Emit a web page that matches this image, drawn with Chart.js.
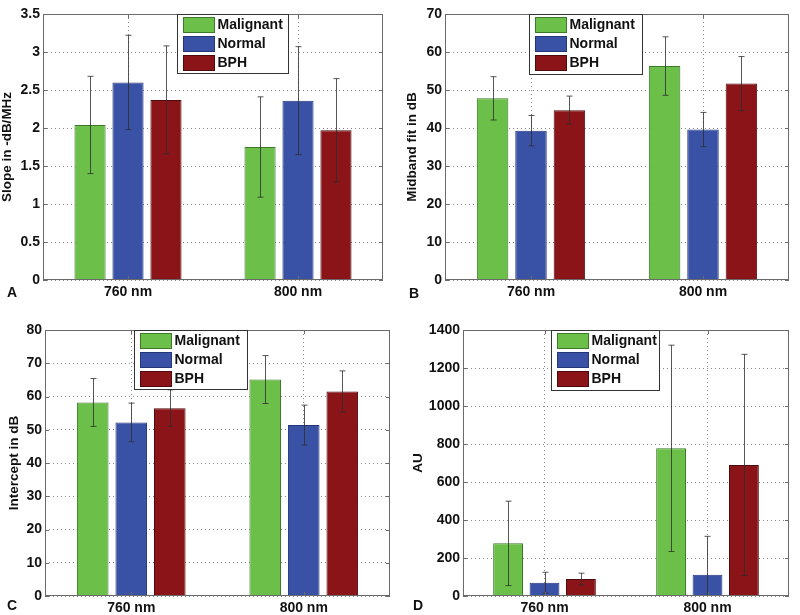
<!DOCTYPE html>
<html>
<head>
<meta charset="utf-8">
<script src="https://cdn.jsdelivr.net/npm/chart.js@4.4.1/dist/chart.umd.min.js"></script>
<style>
  html, body { margin: 0; padding: 0; background: #fff; }
  #wrap { position: relative; width: 800px; height: 615px; overflow: hidden; }
  .panel { position: absolute; }
</style>
</head>
<body>
<div id="wrap">
  <div class="panel" style="left:0;top:0;width:400px;height:300px"><canvas id="cA" width="400" height="300"></canvas></div>
  <div class="panel" style="left:400px;top:0;width:400px;height:300px"><canvas id="cB" width="400" height="300"></canvas></div>
  <div class="panel" style="left:0;top:300px;width:400px;height:315px"><canvas id="cC" width="400" height="315"></canvas></div>
  <div class="panel" style="left:400px;top:300px;width:400px;height:315px"><canvas id="cD" width="400" height="315"></canvas></div>
</div>
<script>
// ---------- data ----------
const categories = ['760 nm', '800 nm'];
const seriesNames = ['Malignant', 'Normal', 'BPH'];

// Panel A: slope (-dB/MHz)
const slopeMalignant = [2.04, 1.75];
const slopeMalignantErr = [0.64, 0.66];
const slopeNormal = [2.60, 2.36];
const slopeNormalErr = [0.62, 0.71];
const slopeBPH = [2.37, 1.97];
const slopeBPHErr = [0.71, 0.68];

// Panel B: midband fit (dB)
const midbandMalignant = [47.8, 56.3];
const midbandMalignantErr = [5.7, 7.7];
const midbandNormal = [39.3, 39.6];
const midbandNormalErr = [4.0, 4.5];
const midbandBPH = [44.7, 51.7];
const midbandBPHErr = [3.7, 7.1];

// Panel C: intercept (dB)
const interceptMalignant = [58.2, 65.1];
const interceptMalignantErr = [7.2, 7.2];
const interceptNormal = [52.2, 51.4];
const interceptNormalErr = [5.8, 6.0];
const interceptBPH = [56.5, 61.5];
const interceptBPHErr = [5.5, 6.2];

// Panel D: AU
const auMalignant = [277, 777];
const auMalignantErr = [222, 543];
const auNormal = [70, 112];
const auNormalErr = [55, 202];
const auBPH = [89, 690];
const auBPHErr = [31, 582];

// y tick settings
const slopeTicks = { max: 3.5, step: 0.5 };
const midbandTicks = { max: 70, step: 10 };
const interceptTicks = { max: 80, step: 10 };
const auTicks = { max: 1400, step: 200 };

// ---------- styles ----------
const FONT = "'Liberation Sans', Arial, sans-serif";
Chart.defaults.font.family = FONT;
Chart.defaults.color = '#111';
const fills = ['#6cc04a', '#3a52a6', '#8b1418'];
const edges = ['#3c7a2a', '#24357a', '#4e0a0c'];

const boxPlugin = {
  id: 'boxPlugin',
  afterDatasetsDraw(chart) {
    const ctx = chart.ctx, a = chart.chartArea;
    ctx.save();
    ctx.beginPath();
    ctx.rect(a.left, a.top, a.right - a.left, a.bottom - a.top);
    ctx.clip();
    chart.data.datasets.forEach((ds, i) => {
      const meta = chart.getDatasetMeta(i);
      ds.errors.forEach((e, j) => {
        const v = ds.data[j];
        const x = Math.round(meta.data[j].x) + 0.5;
        const yT = chart.scales.y.getPixelForValue(v + e);
        const yB = chart.scales.y.getPixelForValue(v - e);
        ctx.strokeStyle = 'rgba(45,45,45,0.8)';
        ctx.lineWidth = 1;
        ctx.beginPath();
        ctx.moveTo(x, yT); ctx.lineTo(x, yB);
        ctx.moveTo(x - 3, yT); ctx.lineTo(x + 3, yT);
        ctx.moveTo(x - 3, yB); ctx.lineTo(x + 3, yB);
        ctx.stroke();
      });
    });
    ctx.restore();
  },
  afterDraw(chart) {
    const o = chart.options.plugins.boxPlugin;
    const ctx = chart.ctx, a = chart.chartArea;
    ctx.save();
    ctx.strokeStyle = '#6a6a6a';
    ctx.lineWidth = 1;
    ctx.strokeRect(Math.round(a.left) + 0.5, Math.round(a.top) + 0.5,
                   Math.round(a.right - a.left) - 1, Math.round(a.bottom - a.top) - 1);
    ctx.beginPath();
    chart.scales.y.ticks.forEach((t) => {
      const y = Math.round(chart.scales.y.getPixelForValue(t.value)) + 0.5;
      ctx.moveTo(a.left, y); ctx.lineTo(a.left + 4, y);
      ctx.moveTo(a.right - 4, y); ctx.lineTo(a.right, y);
    });
    chart.scales.x.ticks.forEach((t, i) => {
      const x = Math.round(chart.scales.x.getPixelForTick(i)) + 0.5;
      ctx.moveTo(x, a.bottom); ctx.lineTo(x, a.bottom - 4);
      ctx.moveTo(x, a.top); ctx.lineTo(x, a.top + 4);
    });
    ctx.stroke();
    // legend
    const lx = Math.round(a.left + o.legendX) + 0.5, ly = Math.round(a.top + o.legendY) + 0.5;
    ctx.fillStyle = '#fff';
    ctx.fillRect(lx, ly, o.legendW, o.legendH);
    ctx.strokeStyle = '#333';
    ctx.strokeRect(lx, ly, o.legendW, o.legendH);
    ctx.font = 'bold 14px ' + FONT;
    ctx.textBaseline = 'middle';
    ctx.textAlign = 'left';
    chart.data.datasets.forEach((ds, i) => {
      const ry = ly + 3 + i * 19;
      ctx.fillStyle = ds.backgroundColor;
      ctx.fillRect(lx + 6, ry, 31, 15);
      ctx.strokeStyle = ds.borderColor;
      ctx.strokeRect(lx + 6, ry, 31, 15);
      ctx.fillStyle = '#111';
      ctx.fillText(ds.label, lx + 40, ry + 8);
    });
    // panel letter
    ctx.font = 'bold 14px ' + FONT;
    ctx.textBaseline = 'alphabetic';
    ctx.fillStyle = '#111';
    ctx.fillText(o.letter, o.letterX, o.letterY);
    ctx.restore();
  }
};

function makeChart(id, means, errs, ticks, title, lay) {
  const datasets = seriesNames.map((name, i) => ({
    label: name,
    data: means[i],
    errors: errs[i],
    backgroundColor: fills[i],
    borderColor: edges[i],
    borderWidth: 1,
    categoryPercentage: 0.67,
    barPercentage: 0.82
  }));
  return new Chart(document.getElementById(id), {
    type: 'bar',
    data: { labels: categories, datasets },
    plugins: [boxPlugin],
    options: {
      responsive: false,
      animation: false,
      layout: { padding: { left: 0, top: lay.top, right: lay.right, bottom: 0 } },
      plugins: {
        legend: { display: false },
        tooltip: { enabled: false },
        boxPlugin: lay.box
      },
      scales: {
        x: {
          offset: true,
          border: { display: false, dash: [1, 3] },
          grid: { offset: false, drawTicks: false, color: '#8a8a8a', lineWidth: 1 },
          ticks: { padding: 4, font: { size: 14, weight: 'bold' }, color: '#111' },
          afterFit: (s) => { s.height = lay.xh; }
        },
        y: {
          min: 0, max: ticks.max,
          border: { display: false, dash: [1, 3] },
          grid: { drawTicks: false, color: '#8a8a8a', lineWidth: 1 },
          ticks: { stepSize: ticks.step, padding: 3, font: { size: 14, weight: 'bold' }, color: '#111',
                   callback: (v) => String(Math.round(v * 100) / 100) },
          title: { display: true, text: title, font: { size: 13.5, weight: 'bold', lineHeight: 1 },
                   padding: { top: lay.titlePad, bottom: 0 }, color: '#111' },
          afterFit: (s) => { s.width = lay.yw; }
        }
      }
    }
  });
}

makeChart('cA',
  [slopeMalignant, slopeNormal, slopeBPH],
  [slopeMalignantErr, slopeNormalErr, slopeBPHErr],
  slopeTicks, 'Slope in -dB/MHz',
  { top: 14, right: 17, yw: 43, xh: 20, titlePad: 1,
    box: { legendX: 134, legendY: 0, legendW: 111, legendH: 59, letter: 'A', letterX: 7, letterY: 297 } });

makeChart('cB',
  [midbandMalignant, midbandNormal, midbandBPH],
  [midbandMalignantErr, midbandNormalErr, midbandBPHErr],
  midbandTicks, 'Midband fit in dB',
  { top: 14, right: 11, yw: 45, xh: 20, titlePad: 6,
    box: { legendX: 84, legendY: 0, legendW: 113, legendH: 60, letter: 'B', letterX: 9, letterY: 298 } });

makeChart('cC',
  [interceptMalignant, interceptNormal, interceptBPH],
  [interceptMalignantErr, interceptNormalErr, interceptBPHErr],
  interceptTicks, 'Intercept in dB',
  { top: 30, right: 10, yw: 45, xh: 19, titlePad: 8,
    box: { legendX: 89, legendY: 0, legendW: 113, legendH: 59, letter: 'C', letterX: 7, letterY: 310 } });

makeChart('cD',
  [auMalignant, auNormal, auBPH],
  [auMalignantErr, auNormalErr, auBPHErr],
  auTicks, 'AU',
  { top: 30, right: 11, yw: 63, xh: 19, titlePad: 12,
    box: { legendX: 88, legendY: 0, legendW: 108, legendH: 60, letter: 'D', letterX: 13, letterY: 310 } });
</script>
</body>
</html>
